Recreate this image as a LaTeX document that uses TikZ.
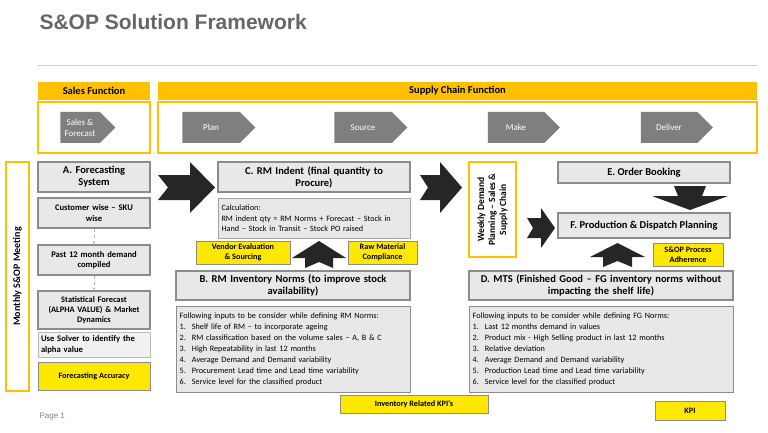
\documentclass[tikz,border=0pt]{standalone}
\usepackage{fontspec}
\setmainfont{Carlito}
\newfontfamily\titlefont{Liberation Sans}
\usetikzlibrary{shapes.symbols,arrows.meta}
\definecolor{hdr}{HTML}{FFC000}
\definecolor{ylw}{HTML}{FFE800}
\definecolor{gfill}{HTML}{E8E8E8}
\definecolor{gline}{HTML}{8C8C8C}
\definecolor{chevc}{HTML}{7F7F7F}
\definecolor{dark}{HTML}{262626}
\tikzset{
 gbox/.style={draw=gline,line width=1.4pt,fill=gfill,inner sep=1pt,align=center,font=\bfseries\fontsize{10.5}{12}\selectfont},
 sbox/.style={gbox,font=\bfseries\fontsize{8.6}{10.5}\selectfont},
 lbox/.style={draw=gline,line width=1.4pt,fill=gfill,inner sep=3pt,align=left,anchor=north west,font=\fontsize{8.2}{11}\selectfont},
 ybox/.style={draw=gline,line width=0.6pt,fill=ylw,align=center,inner sep=1pt,font=\bfseries\fontsize{8.2}{10}\selectfont},
 hbox/.style={fill=hdr,align=center,inner sep=0pt,font=\bfseries\fontsize{10.5}{11}\selectfont},
 frame/.style={draw=hdr,line width=1.5pt,fill=white},
 chev/.style={signal,signal to=east,fill=chevc,text=white,inner sep=0pt,align=center,font=\fontsize{9}{11}\selectfont},
 big/.style={fill=dark},
 dashconn/.style={draw=gline!70,dashed,line width=0.7pt,-{Stealth[length=3pt]}},
}
\begin{document}
\begin{tikzpicture}[x=1pt,y=-1pt]
\useasboundingbox (0,0) rectangle (768,433);
\node[anchor=west,text=gray!80!black,font=\titlefont\bfseries\fontsize{21}{22}\selectfont] (title) at (36,22) {S\&OP Solution Framework};
\draw[gray!40,line width=0.8pt] (38,65) -- (757,65);
% headers
\node[hbox,minimum width=112,minimum height=18] (sf) at (94,91) {Sales Function};
\node[hbox,minimum width=599,minimum height=18] (scf) at (457.5,91) {Supply Chain Function};
\node[frame,minimum width=112,minimum height=51] (sfb) at (94,127.5) {};
\node[frame,minimum width=599,minimum height=51] (scb) at (457.5,127.5) {};
\node[chev,minimum width=55,minimum height=31] (c1) at (80,127.5) {Sales \&\\Forecast};
\node[chev,minimum width=73,minimum height=31] (c2) at (211,127.5) {Plan};
\node[chev,minimum width=73,minimum height=31] (c3) at (363,127.5) {Source};
\node[chev,minimum width=72,minimum height=31] (c4) at (516,127.5) {Make};
\node[chev,minimum width=72,minimum height=31] (c5) at (669,127.5) {Deliver};
% monthly
\node[frame,minimum width=23,minimum height=229] (mon) at (17.5,276.5) {};
\node[rotate=90,font=\bfseries\fontsize{10}{11}\selectfont] (monl) at (17.5,276.5) {Monthly S\&OP Meeting};
% column A
\node[gbox,minimum width=112,minimum height=30,text width=106] (A) at (94,177) {A. Forecasting\\System};
\node[sbox,minimum width=112,minimum height=30,text width=106] (A1) at (94,213) {Customer wise -- SKU\\wise};
\node[sbox,minimum width=112,minimum height=30,text width=106] (A2) at (94,260) {Past 12 month demand\\compiled};
\node[sbox,minimum width=112,minimum height=38,text width=108,font=\bfseries\fontsize{8.4}{10}\selectfont] (A3) at (94,310) {Statistical Forecast\\(ALPHA VALUE) \& Market\\Dynamics};
\node[sbox,draw=gline!60,line width=0.8pt,fill=gfill!60,minimum width=112,minimum height=25,text width=106,align=left] (A4) at (94,344.5) {Use Solver to identify the alpha value};
\node[ybox,minimum width=112,minimum height=28] (A5) at (94,376) {Forecasting Accuracy};
\draw[dashconn] (A1) -- (A2);
\draw[dashconn] (A2) -- (A3);
% big arrows
\fill[big] (158,175) -- (190,175) -- (190,162) -- (215,187.5) -- (190,213) -- (190,200) -- (158,200) -- (168,187.5) -- cycle;
\fill[big] (420,175) -- (440,175) -- (440,162) -- (462,187.5) -- (440,213) -- (440,200) -- (420,200) -- (428,187.5) -- cycle;
\fill[big] (527,218) -- (541,218) -- (541,208) -- (555,228) -- (541,248) -- (541,238) -- (527,238) -- (533,228) -- cycle;
\fill[big] (305,268) -- (305,258) -- (292,258) -- (319,241) -- (346,258) -- (333,258) -- (333,268) -- (319,262) -- cycle;
\fill[big] (603,267) -- (603,257) -- (590,257) -- (617.5,243) -- (645,257) -- (632,257) -- (632,267) -- (617.5,261) -- cycle;
\fill[big] (674,186) -- (706,186) -- (702,196) -- (728,196) -- (690,210) -- (652,196) -- (678,196) -- cycle;
% column C / B
\node[gbox,minimum width=192,minimum height=30,text width=186] (C) at (314,177) {C. RM Indent (final quantity to\\Procure)};
\node[lbox,draw=gline!80,line width=1pt,minimum width=192,minimum height=40,text width=186,font=\fontsize{8.2}{10.5}\selectfont] (C1) at (218,198) {Calculation:\\RM indent qty = RM Norms + Forecast -- Stock in Hand -- Stock in Transit -- Stock PO raised};
\node[ybox,minimum width=94,minimum height=23] (V) at (243,252.5) {Vendor Evaluation\\\& Sourcing};
\node[ybox,minimum width=69,minimum height=23] (R) at (382.5,252.5) {Raw Material\\Compliance};
\node[gbox,minimum width=234,minimum height=29,text width=230] (B) at (293,285.5) {B. RM Inventory Norms (to improve stock\\availability)};
\node[lbox,minimum width=234,minimum height=86,text width=228] (B1) at (176,306) {Following inputs to be consider while defining RM Norms:\\
1.\hspace{6pt}Shelf life of RM -- to incorporate ageing\\
2.\hspace{6pt}RM classification based on the volume sales -- A, B \& C\\
3.\hspace{6pt}High Repeatability in last 12 months\\
4.\hspace{6pt}Average Demand and Demand variability\\
5.\hspace{6pt}Procurement Lead time and Lead time variability\\
6.\hspace{6pt}Service level for the classified product};
\node[ybox,minimum width=148,minimum height=18] (IK) at (414,404) {Inventory Related KPI's};
% right
\node[frame,minimum width=47,minimum height=95] (W) at (492.5,209.5) {};
\node[rotate=90,align=center,font=\bfseries\fontsize{9.5}{11}\selectfont] (Wl) at (492.5,209.5) {Weekly Demand\\Planning -- Sales \&\\Supply Chain};
\node[gbox,minimum width=172,minimum height=21] (E) at (644,172.5) {E. Order Booking};
\node[gbox,minimum width=172,minimum height=25] (F) at (644,225.5) {F. Production \& Dispatch Planning};
\node[ybox,minimum width=70,minimum height=23] (S) at (688,254.5) {S\&OP Process\\Adherence};
\node[gbox,minimum width=264,minimum height=29,text width=260] (D) at (601,285.5) {D. MTS (Finished Good -- FG inventory norms without\\impacting the shelf life)};
\node[lbox,minimum width=264,minimum height=86,text width=258] (D1) at (469,306) {Following inputs to be consider while defining FG Norms:\\
1.\hspace{6pt}Last 12 months demand in values\\
2.\hspace{6pt}Product mix - High Selling product in last 12 months\\
3.\hspace{6pt}Relative deviation\\
4.\hspace{6pt}Average Demand and Demand variability\\
5.\hspace{6pt}Production Lead time and Lead time variability\\
6.\hspace{6pt}Service level for the classified product};
\node[ybox,minimum width=70,minimum height=19] (K) at (690,410.5) {KPI};
\node[anchor=west,text=gray,font=\titlefont\fontsize{8}{9}\selectfont] (pg) at (36,417) {Page 1};
\end{tikzpicture}
\end{document}
